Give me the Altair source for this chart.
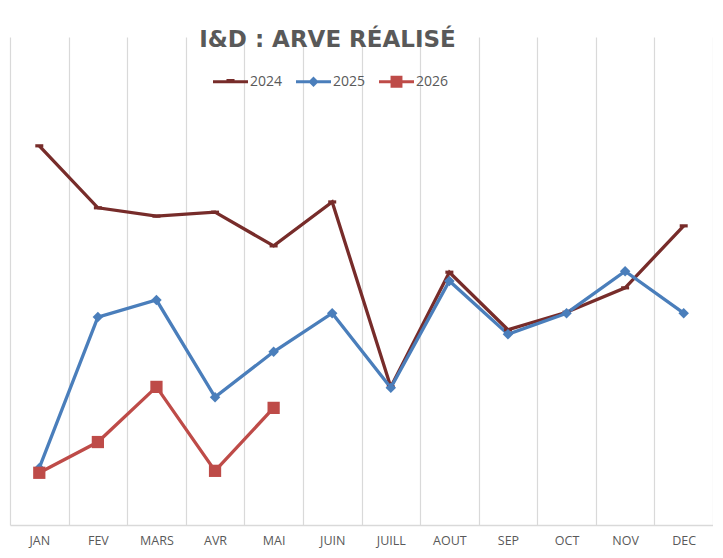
import altair as alt
import pandas as pd

months = ["JAN", "FEV", "MARS", "AVR", "MAI", "JUIN", "JUILL", "AOUT", "SEP", "OCT", "NOV", "DEC"]
series = ["2024", "2025", "2026"]
v2024 = [77.7, 65.0, 63.3, 64.1, 57.2, 66.2, 28.3, 51.8, 40.0, 43.6, 48.6, 61.3]
v2025 = [11.7, 42.6, 46.1, 26.2, 35.5, 43.4, 28.1, 50.0, 39.1, 43.4, 52.0, 43.4]
v2026 = [10.7, 17.0, 28.3, 11.1, 24.0]
colors = ["#772C2A", "#4A7EBB", "#BE4B48"]

rows = []
for s, vals in zip(series, [v2024, v2025, v2026]):
    for i, (m, v) in enumerate(zip(months, vals)):
        rows.append({"mois": m, "idx": i, "serie": s, "valeur": v})
df = pd.DataFrame(rows)

FONT = "Open Sans"
GREY = "#595959"

x_enc = alt.X(
    "mois:N",
    sort=months,
    scale=alt.Scale(domain=months, paddingInner=0, paddingOuter=0),
    axis=alt.Axis(
        title=None, tickBand="extent", grid=True, gridColor="#D9D9D9", gridWidth=1.2,
        domainColor="#D9D9D9", domainWidth=1.5, ticks=False, labelAngle=0,
        labelFont=FONT, labelFontSize=12.5, labelColor=GREY, labelPadding=9,
    ),
)
y_enc = alt.Y("valeur:Q", scale=alt.Scale(domain=[0, 100]), axis=None)
color_scale = alt.Scale(domain=series, range=colors)

base = alt.Chart(df)

lines = base.mark_line(strokeWidth=3.3).encode(
    x=x_enc, y=y_enc,
    color=alt.Color("serie:N", scale=color_scale, legend=None),
    order=alt.Order("idx:Q"),
)

marker_shapes = {
    "2024": "M-1,-0.4H1V0.4H-1Z",
    "2025": "diamond",
    "2026": "square",
}
marker_sizes = {"2024": 64, "2025": 110, "2026": 150}

point_layers = []
for s in series:
    point_layers.append(
        base.transform_filter(alt.datum.serie == s)
        .mark_point(filled=True, opacity=1, shape=marker_shapes[s], size=marker_sizes[s])
        .encode(x=x_enc, y=y_enc, color=alt.Color("serie:N", scale=color_scale, legend=None))
    )

legend_paths = [
    "M-1,-0.09H1V0.09H-1ZM-0.23,-0.16H0.23V0.09H-0.23Z",
    "M-1,-0.09H1V0.09H-1ZM0,-0.3L0.3,0L0,0.3L-0.3,0Z",
    "M-1,-0.09H1V0.09H-1ZM-0.34,-0.34H0.34V0.34H-0.34Z",
]

legend_props = dict(
    orient="none", legendX=203, legendY=27, direction="horizontal",
    symbolSize=1225, symbolStrokeWidth=0, symbolOpacity=1,
    labelFont=FONT, labelFontSize=14, labelColor=GREY, labelOffset=2,
    columnPadding=13, padding=0,
)

legend_layer = base.mark_point(filled=True, opacity=0, size=1225).encode(
    x=x_enc, y=y_enc,
    color=alt.Color("serie:N", scale=color_scale, title=None, legend=alt.Legend(**legend_props)),
    shape=alt.Shape(
        "serie:N", scale=alt.Scale(domain=series, range=legend_paths), title=None,
        legend=alt.Legend(**legend_props),
    ),
)

chart = (
    alt.layer(lines, *point_layers, legend_layer)
    .resolve_legend(color="independent", shape="independent")
    .properties(
        width=703, height=488,
        autosize=alt.AutoSizeParams(type="none"),
        padding={"left": 2, "top": 29, "right": 0, "bottom": 23},
        title=alt.TitleParams(
            "I&D : ARVE RÉALISÉ", anchor="middle", dx=-34, offset=-38, baseline="bottom",
            font="DejaVu Sans", fontSize=23, fontWeight="bold", color=GREY,
        ),
    )
    .configure_view(stroke=None)
)

chart.save("out.html", embed_options={"renderer": "svg", "actions": False})
